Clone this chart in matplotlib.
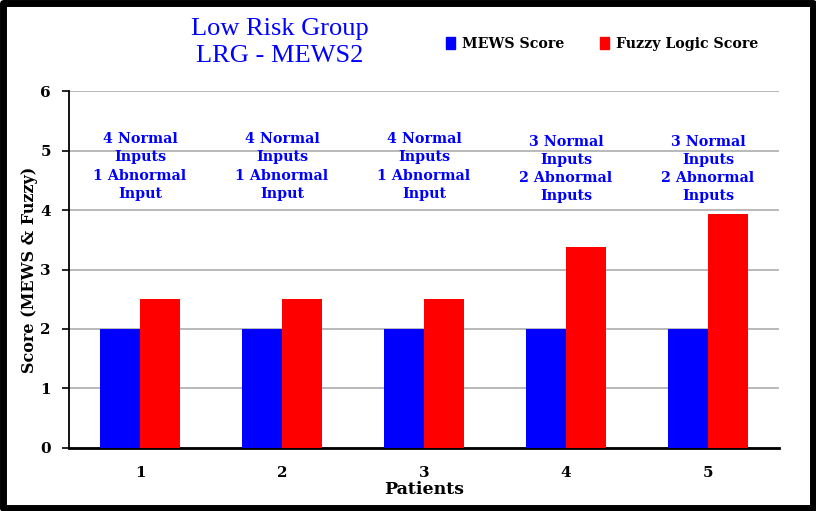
import matplotlib
matplotlib.use("Agg")
import matplotlib.pyplot as plt
from matplotlib.patches import Rectangle, Patch
import numpy as np

patients = ["1", "2", "3", "4", "5"]
mews_scores = [2, 2, 2, 2, 2]
fuzzy_scores = [2.5, 2.5, 2.5, 3.375, 3.94]
input_notes = [
    "4 Normal\nInputs\n1 Abnormal\nInput",
    "4 Normal\nInputs\n1 Abnormal\nInput",
    "4 Normal\nInputs\n1 Abnormal\nInput",
    "3 Normal\nInputs\n2 Abnormal\nInputs",
    "3 Normal\nInputs\n2 Abnormal\nInputs",
]
note_heights = [4.73, 4.73, 4.73, 4.69, 4.69]
y_ticks = [0, 1, 2, 3, 4, 5, 6]

BODY = ["DejaVu Serif"]
TITLE = ["Liberation Serif", "DejaVu Serif"]
plt.rcParams["font.family"] = BODY

fig = plt.figure(figsize=(8.16, 5.11), dpi=100)
ax = fig.add_axes([0.0846, 0.1233, 0.870, 0.6986])

x = np.arange(1, len(patients) + 1)
w = 0.28
ax.bar(x - w / 2, mews_scores, w, color="#0000ff", zorder=3, label="MEWS Score")
ax.bar(x + w / 2, fuzzy_scores, w, color="#ff0000", zorder=3, label="Fuzzy Logic Score")

for xi, note, h in zip(x, input_notes, note_heights):
    ax.text(xi, h, note, ha="center", va="center", color="#0000ff",
            fontsize=10.3, fontweight="bold", linespacing=1.38, zorder=4)

ax.set_xlim(0.5, 5.5)
ax.set_ylim(0, 6)
ax.set_yticks(y_ticks)
ax.set_xticks(x)
ax.set_xticklabels(patients)
ax.yaxis.grid(True, color="#a6a6a6", linewidth=1.1, zorder=0)
ax.set_axisbelow(True)
for side in ("top", "right"):
    ax.spines[side].set_visible(False)
ax.spines["left"].set_linewidth(1.3)
ax.spines["bottom"].set_linewidth(2.0)
ax.tick_params(axis="y", length=5, width=1.2, direction="out", pad=8)
ax.tick_params(axis="x", length=0, pad=13)
for lbl in ax.get_xticklabels() + ax.get_yticklabels():
    lbl.set_fontweight("bold")
    lbl.set_fontsize(11)

ax.set_ylabel("Score (MEWS & Fuzzy)", fontsize=11.5, fontweight="bold", labelpad=2)
ax.set_xlabel("Patients", fontsize=12.5, fontweight="bold", labelpad=1)

fig.text(0.343, 0.943, "Low Risk Group", ha="center", va="center",
         color="#0000ff", fontsize=19, family=TITLE)
fig.text(0.343, 0.890, "LRG - MEWS2", ha="center", va="center",
         color="#0000ff", fontsize=19, family=TITLE)

handles = [Patch(color="#0000ff"), Patch(color="#ff0000")]
fig.legend(handles, ["MEWS Score", "Fuzzy Logic Score"], ncol=2,
           loc="center left", bbox_to_anchor=(0.531, 0.914), frameon=False,
           prop={"family": BODY, "weight": "bold", "size": 10.2},
           handlelength=0.6, handleheight=0.9, handletextpad=0.5,
           columnspacing=2.55)

fig.patches.append(Rectangle((0.004, 0.006), 0.992, 0.988, transform=fig.transFigure,
                             fill=False, edgecolor="black", linewidth=5,
                             joinstyle="round"))

fig.savefig("out.png", dpi=100, facecolor="white")
